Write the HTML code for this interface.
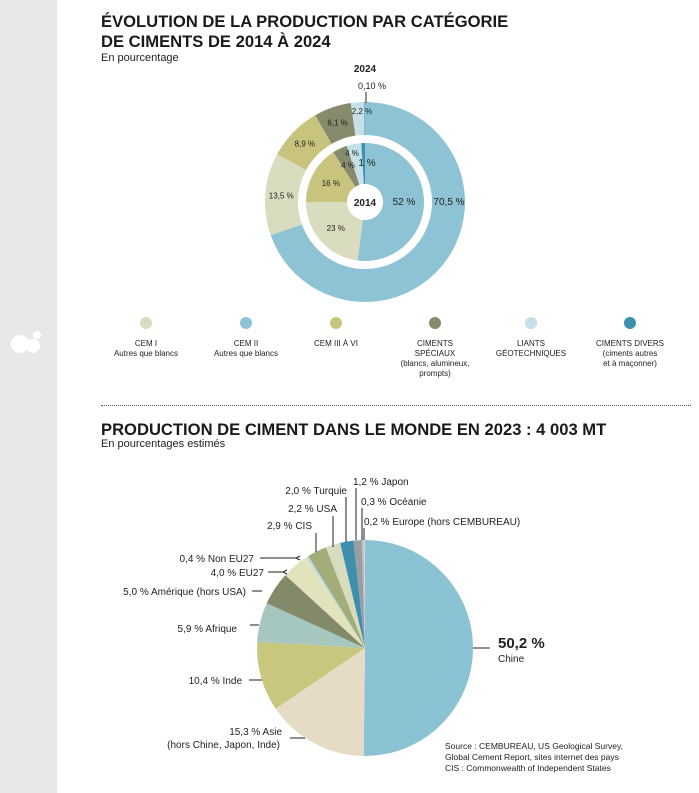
<!DOCTYPE html>
<html><head><meta charset="utf-8"><style>
body{margin:0;width:699px;height:793px;background:#fff;position:relative;overflow:hidden;font-family:"Liberation Sans",sans-serif;color:#222}
.t{position:absolute;white-space:nowrap}
h1{position:absolute;margin:0;font-size:16.6px;font-weight:bold;line-height:20px;left:101px;color:#1a1a1a}
.sub{font-size:11px}
.leg{position:absolute;font-size:8px;text-align:center;width:100px;line-height:10px}
.dot{position:absolute;width:12px;height:12px;border-radius:50%}
</style></head><body>
<div style="position:absolute;left:0;top:0;width:57px;height:793px;background:#e8e8e8"></div>
<svg style="position:absolute;left:8px;top:330px" width="36" height="26"><circle cx="12" cy="14" r="9" fill="#fff"/><circle cx="25" cy="16" r="7" fill="#fff"/><circle cx="29" cy="5" r="4" fill="#fff"/></svg>
<h1 style="top:12px">ÉVOLUTION DE LA PRODUCTION PAR CATÉGORIE<br>DE CIMENTS DE 2014 À 2024</h1>
<div class="t sub" style="left:101px;top:52px">En pourcentage</div>
<svg id="donut" style="position:absolute;left:0;top:0" width="699" height="400"></svg>
<svg id="pie" style="position:absolute;left:0;top:0" width="699" height="793"></svg>
<div style="position:absolute;left:101px;top:405px;width:590px;border-top:1px dotted #555"></div>
<h1 style="top:420px">PRODUCTION DE CIMENT DANS LE MONDE EN 2023 : 4 003 MT</h1>
<div class="t sub" style="left:101px;top:438px">En pourcentages estimés</div>
<div class="t" style="left:445px;top:741px;font-size:8.5px;line-height:11px">Source : CEMBUREAU, US Geological Survey,<br>Global Cement Report, sites internet des pays<br>CIS : Commonwealth of Independent States</div>
<div id="legend"></div>
<script>
const catNames=["CEM I<br>Autres que blancs","CEM II<br>Autres que blancs","CEM III À VI","CIMENTS<br>SPÉCIAUX<br>(blancs, alumineux,<br>prompts)","LIANTS<br>GÉOTECHNIQUES","CIMENTS DIVERS<br>(ciments autres<br>et à maçonner)"];
const catColors=["#d9dcbe","#8dc3d4","#c8c47e","#858b6c","#c6e0e8","#3d8fae"];
const v2014=[23,52,16,4,4,1];
const v2024=[13.5,70.5,8.9,6.1,2.2,0.1];
const l2014=["23 %","52 %","16 %","4 %","4 %","1 %"];
const l2024=["13,5 %","70,5 %","8,9 %","6,1 %","2,2 %","0,10 %"];
const ord=[1,0,2,3,4,5];
const countries=["Chine","Asie","Inde","Afrique","Amérique","EU27","NonEU27","CIS","USA","Turquie","Japon","Océanie","Europe"];
const shares=[50.2,15.3,10.4,5.9,5.0,4.0,0.4,2.9,2.2,2.0,1.2,0.3,0.2];
const pieColors=["#8cc3d4","#e6dcc6","#c9c77e","#a6c7c0","#838a6a","#e2e2bd","#b9dbe6","#a2ad7a","#d8dcbc","#3e8fae","#9a9ea3","#b8b8b8","#d6d6d6"];
const NS="http://www.w3.org/2000/svg";
function arc(cx,cy,r0,r1,a0,a1){const p=(r,a)=>[cx+r*Math.sin(a),cy-r*Math.cos(a)];const lg=a1-a0>Math.PI?1:0;
const [x1,y1]=p(r1,a0),[x2,y2]=p(r1,a1);
if(r0<=0)return `M${cx},${cy}L${x1},${y1}A${r1},${r1} 0 ${lg} 1 ${x2},${y2}Z`;
const [x3,y3]=p(r0,a1),[x4,y4]=p(r0,a0);
return `M${x1},${y1}A${r1},${r1} 0 ${lg} 1 ${x2},${y2}L${x3},${y3}A${r0},${r0} 0 ${lg} 0 ${x4},${y4}Z`;}
function txt(svg,x,y,s,size,name,anchor,weight){const t=document.createElementNS(NS,"text");t.setAttribute("x",x);t.setAttribute("y",y);t.setAttribute("font-size",size);t.setAttribute("text-anchor",anchor||"middle");t.setAttribute("font-family","Liberation Sans, sans-serif");if(weight)t.setAttribute("font-weight",weight);t.setAttribute("fill","#222");t.textContent=s;


svg.appendChild(t);return t;}
const d=document.getElementById("donut");const cx=365,cy=202;
function ring(vals,labels,r0,r1,lr,yr,skip){const tot=vals.reduce((a,b)=>a+b,0);let a=0;
ord.forEach(i=>{const a1=a+vals[i]/tot*2*Math.PI;const p=document.createElementNS(NS,"path");p.setAttribute("d",arc(cx,cy,r0,r1,a,a1));p.setAttribute("fill",catColors[i]);


d.appendChild(p);
let m=(a+a1)/2;let rr=lr;
if(i===1){m=Math.PI/2;}
if(skip.indexOf(i)<0)txt(d,cx+rr*Math.sin(m),cy-rr*Math.cos(m)+3,labels[i],i===1?10:8,'label-'+yr+'-'+i);
a=a1;});}
ring(v2024,l2024,67,100,84,"2024",[5,4]);
ring(v2014,l2014,18,59,39,"2014",[3,4,5]);
const c=document.createElementNS(NS,"circle");c.setAttribute("cx",cx);c.setAttribute("cy",cy);c.setAttribute("r",18);c.setAttribute("fill","#fff");d.appendChild(c);
txt(d,cx,cy+4,"2014",10,"center-2014","middle","bold");
txt(d,cx,72,"2024",10,"year-2024-label","middle","bold");
txt(d,cx+7,89,"0,10 %",9,"label-2024-divers");
txt(d,cx-3,114,"2,2 %",8,"label-2024-liants");
const ln=document.createElementNS(NS,"line");ln.setAttribute("x1",cx+1);ln.setAttribute("x2",cx+1);ln.setAttribute("y1",92);ln.setAttribute("y2",103);ln.setAttribute("stroke","#222");d.appendChild(ln);
txt(d,348,168,"4 %",8,"label-2014-speciaux");
txt(d,352,156,"4 %",8,"label-2014-liants");
txt(d,367,166,"1 %",10,"label-2014-divers");
const lg=document.getElementById("legend");const lx=[146,246,336,435,531,630];
catNames.forEach((n,i)=>{const dt=document.createElement("div");dt.className="dot";dt.style.left=(lx[i]-6)+"px";dt.style.top="317px";dt.style.background=catColors[i];


lg.appendChild(dt);const t=document.createElement("div");t.className="leg";t.style.left=(lx[i]-50)+"px";t.style.top="339px";t.innerHTML=n;


lg.appendChild(t);});
const P=document.getElementById("pie");const px=365,py=648,pr=108;const tot=shares.reduce((a,b)=>a+b,0);let a=0;
shares.forEach((v,i)=>{const a1=a+v/tot*2*Math.PI;const p=document.createElementNS(NS,"path");p.setAttribute("d",arc(px,py,0,pr,a,a1));p.setAttribute("fill",pieColors[i]);


P.appendChild(p);a=a1;});
function L(x1,y1,x2,y2,arrow){const l=document.createElementNS(NS,"path");l.setAttribute("d",`M${x1},${y1}L${x2},${y2}`+(arrow?`M${x2+4},${y2-2}L${x2},${y2}L${x2+4},${y2+2}`:""));l.setAttribute("stroke","#222");l.setAttribute("fill","none");l.setAttribute("stroke-width","1");P.appendChild(l);}
txt(P,498,648,"50,2 %",15,"label-chine","start","bold");txt(P,498,662,"Chine",10,"label-chine-name","start");L(473,648,490,648);
txt(P,282,735,"15,3 % Asie",10,"label-asie","end");txt(P,280,748,"(hors Chine, Japon, Inde)",10,"label-asie-2","end");L(290,738,305,738);
txt(P,242,684,"10,4 % Inde",10,"label-inde","end");L(249,680,262,680);
txt(P,237,632,"5,9 % Afrique",10,"label-afrique","end");L(250,625,259,625);
txt(P,246,595,"5,0 % Amérique (hors USA)",10,"label-amerique","end");L(252,591,262,591);
txt(P,264,576,"4,0 % EU27",10,"label-eu27","end");L(268,572,283,572,true);
txt(P,254,562,"0,4 % Non EU27",10,"label-non-eu27","end");L(260,558,296,558,true);
txt(P,312,529,"2,9 % CIS",10,"label-cis","end");L(316,533,316,552);
txt(P,337,512,"2,2 % USA",10,"label-usa","end");L(333,516,333,547);
txt(P,347,494,"2,0 % Turquie",10,"label-turquie","end");L(346,497,346,542);
txt(P,353,485,"1,2 % Japon",10,"label-japon","start");L(356,488,356,540);
txt(P,361,505,"0,3 % Océanie",10,"label-oceanie","start");L(362,508,362,540);
txt(P,364,525,"0,2 % Europe (hors CEMBUREAU)",10,"label-europe","start");L(364,528,364,540);
</script>
</body></html>
